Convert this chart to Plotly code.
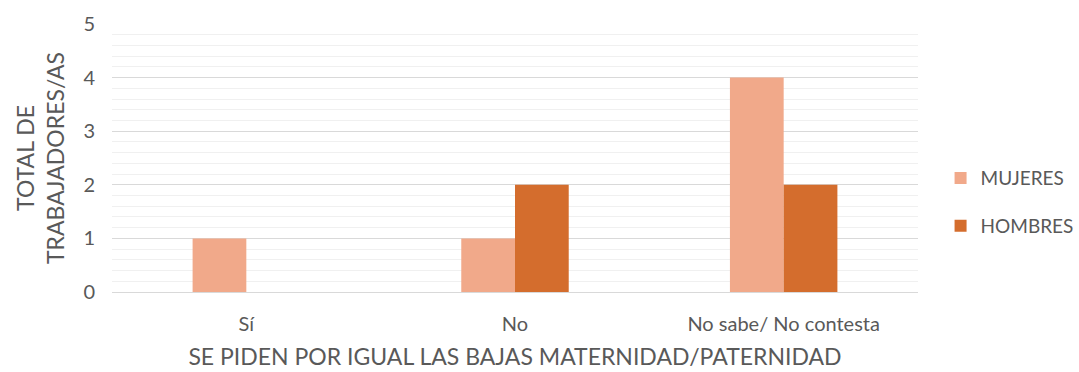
import plotly.graph_objects as go

categorias = ["Sí", "No", "No sabe/ No contesta"]
mujeres = [1, 1, 4]
hombres = [0, 2, 2]

font_family = "Lato, 'Open Sans', sans-serif"
gris = "#595959"

fig = go.Figure()
fig.add_trace(go.Bar(name="MUJERES", x=categorias, y=mujeres,
                     marker=dict(color="#F1A98A", line=dict(width=0)),
                     legendgroup="m"))
fig.add_trace(go.Bar(name="HOMBRES", x=categorias, y=hombres,
                     marker=dict(color="#D46D2D", line=dict(width=0)),
                     legendgroup="h"))

fig.update_layout(
    width=1079, height=372,
    margin=dict(l=112, r=161, t=24, b=80, autoexpand=False),
    paper_bgcolor="white", plot_bgcolor="white",
    barmode="group", bargap=0.6, bargroupgap=0,
    font=dict(family=font_family, color=gris, size=20),
    legend=dict(x=1.028, y=0.335, yanchor="middle", xanchor="left",
                font=dict(size=19, color=gris), tracegroupgap=20,
                itemwidth=30),
    xaxis=dict(
        title=dict(text="SE PIDEN POR IGUAL LAS BAJAS MATERNIDAD/PATERNIDAD",
                   font=dict(size=23, color=gris), standoff=14),
        tickfont=dict(size=20, color=gris), ticklabelstandoff=18,
        showline=False, showgrid=False, ticks="",
    ),
    yaxis=dict(
        title=dict(text="TOTAL DE<br>TRABAJADORES/AS",
                   font=dict(size=23, color=gris), standoff=12),
        range=[0, 5], dtick=1, tickfont=dict(size=20, color=gris),
        showgrid=True, gridcolor="#D9D9D9", gridwidth=1,
        zeroline=True, zerolinecolor="#D9D9D9", zerolinewidth=1,
        minor=dict(dtick=0.2, showgrid=True, gridcolor="#F0F0F0", gridwidth=1),
        ticks="", ticklabelstandoff=16,
    ),
)

fig.write_html("out.html")
